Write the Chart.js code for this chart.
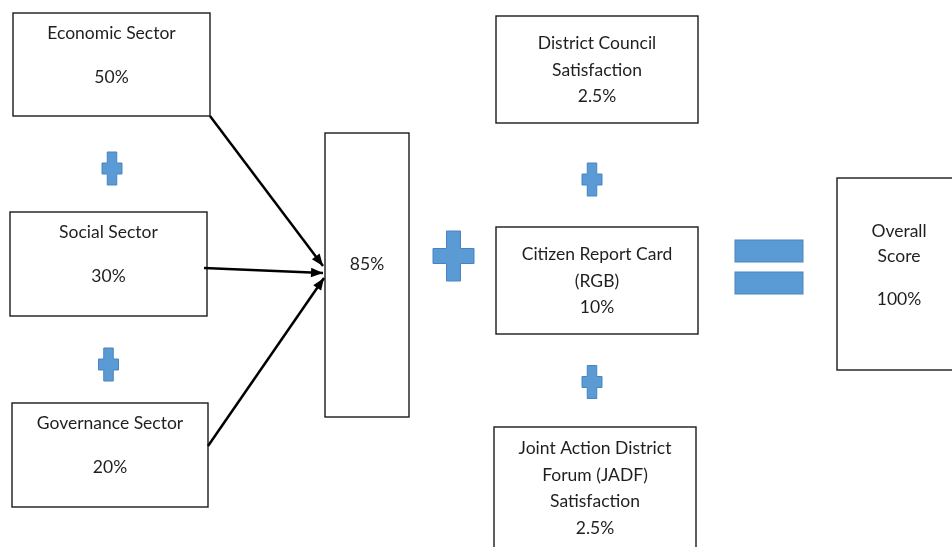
<!DOCTYPE html>
<html><head><meta charset="utf-8">
<script src="https://cdn.jsdelivr.net/npm/chart.js@4.4.0/dist/chart.umd.min.js"></script>
<style>html,body{margin:0;padding:0;background:#fff;overflow:hidden}#wrap{width:952px;height:547px}</style>
</head><body><div id="wrap"><canvas id="c" width="952" height="547"></canvas></div>
<script>
// ---- data ----
const sectorNames = ['Economic Sector', 'Social Sector', 'Governance Sector'];
const sectorWeights = [50, 30, 20];
const subtotalWeight = 85;
const extraNames = [['District Council', 'Satisfaction'], ['Citizen Report Card', '(RGB)'], ['Joint Action District', 'Forum (JADF)', 'Satisfaction']];
const extraWeights = [2.5, 10, 2.5];
const totalName = ['Overall', 'Score'];
const totalWeight = 100;

// ---- layout (axis units) ----
const layout = {
  sectorBoxes: [[13, 13, 210, 116], [10, 212, 207, 316], [12, 403, 208, 507]],
  sectorLabelDy: 20, sectorValueDy: 64,
  subtotalBox: [325, 133, 409, 417], subtotalTextY: 264,
  extraBoxes: [[496, 16, 698, 123], [496, 227, 698, 334], [494, 427, 696, 549]],
  lineGap: 26.5,
  totalBox: [837, 178, 962, 370], totalLinesY: [231, 256], totalValueY: 299,
  arrows: [[[210, 116], [323, 266]], [[204, 268], [323, 273]], [[208, 446], [324, 278]]],
  smallPlus: [[112, 168.5], [108.5, 364.5], [592, 179.5], [592, 382]],
  smallPlusSize: [20, 33, 9.5, 11],
  bigPlus: [453.5, 256], bigPlusSize: [41, 50, 14, 15],
  equalBars: [[735, 240, 803, 262], [735, 272, 803, 294]]
};
const fmt = v => v + '%';
const FONT = '17.5px Lato, "Open Sans", sans-serif';
const TEXT = '#1f1f1f';
const BLUE = '#5B9BD5', BLUE_EDGE = '#4A84BC';

const diagram = {
  id: 'diagram',
  beforeDatasetsDraw(chart) {
    const ctx = chart.ctx, X = chart.scales.x, Y = chart.scales.y;
    const px = v => X.getPixelForValue(v), py = v => Y.getPixelForValue(v);
    ctx.save();
    const box = b => {
      const x0 = px(b[0]), y0 = py(b[1]), x1 = px(b[2]), y1 = py(b[3]);
      ctx.fillStyle = '#fff'; ctx.fillRect(x0, y0, x1 - x0, y1 - y0);
      ctx.strokeStyle = '#1a1a1a'; ctx.lineWidth = 1.4;
      ctx.strokeRect(x0, y0, x1 - x0, y1 - y0);
    };
    const text = (s, cx, cy) => {
      ctx.font = FONT; ctx.fillStyle = TEXT; ctx.textAlign = 'center'; ctx.textBaseline = 'alphabetic';
      ctx.fillText(s, px(cx), py(cy) + 6);
    };
    const cxOf = b => (b[0] + b[2]) / 2;
    layout.sectorBoxes.forEach((b, i) => {
      box(b);
      text(sectorNames[i], cxOf(b), b[1] + layout.sectorLabelDy);
      text(fmt(sectorWeights[i]), cxOf(b), b[1] + layout.sectorValueDy);
    });
    box(layout.subtotalBox);
    text(fmt(subtotalWeight), cxOf(layout.subtotalBox), layout.subtotalTextY);
    layout.extraBoxes.forEach((b, i) => {
      box(b);
      const lines = extraNames[i].concat([fmt(extraWeights[i])]);
      const mid = (b[1] + b[3]) / 2;
      lines.forEach((s, k) => text(s, cxOf(b), mid + (k - (lines.length - 1) / 2) * layout.lineGap));
    });
    const tb = layout.totalBox;
    box(tb);
    const tcx = 899;
    totalName.forEach((s, k) => text(s, tcx, layout.totalLinesY[k]));
    text(fmt(totalWeight), tcx, layout.totalValueY);

    // plus signs and equals
    const plus = (c, sz) => {
      const [w, h, av, ah] = sz;
      const cx = c[0], cy = c[1];
      const pts = [
        [cx - av / 2, cy - h / 2], [cx + av / 2, cy - h / 2], [cx + av / 2, cy - ah / 2], [cx + w / 2, cy - ah / 2],
        [cx + w / 2, cy + ah / 2], [cx + av / 2, cy + ah / 2], [cx + av / 2, cy + h / 2], [cx - av / 2, cy + h / 2],
        [cx - av / 2, cy + ah / 2], [cx - w / 2, cy + ah / 2], [cx - w / 2, cy - ah / 2], [cx - av / 2, cy - ah / 2]
      ];
      ctx.beginPath();
      pts.forEach((p, k) => k ? ctx.lineTo(px(p[0]), py(p[1])) : ctx.moveTo(px(p[0]), py(p[1])));
      ctx.closePath();
      ctx.fillStyle = BLUE; ctx.fill();
      ctx.strokeStyle = BLUE_EDGE; ctx.lineWidth = 1; ctx.stroke();
    };
    layout.smallPlus.forEach(c => plus(c, layout.smallPlusSize));
    plus(layout.bigPlus, layout.bigPlusSize);
    layout.equalBars.forEach(b => {
      const x0 = px(b[0]), y0 = py(b[1]), x1 = px(b[2]), y1 = py(b[3]);
      ctx.fillStyle = BLUE; ctx.fillRect(x0, y0, x1 - x0, y1 - y0);
      ctx.strokeStyle = BLUE_EDGE; ctx.lineWidth = 1; ctx.strokeRect(x0, y0, x1 - x0, y1 - y0);
    });
    ctx.restore();
  },
  afterDatasetsDraw(chart) {
    const ctx = chart.ctx, X = chart.scales.x, Y = chart.scales.y;
    ctx.save();
    layout.arrows.forEach(a => {
      const x0 = X.getPixelForValue(a[0][0]), y0 = Y.getPixelForValue(a[0][1]);
      const x1 = X.getPixelForValue(a[1][0]), y1 = Y.getPixelForValue(a[1][1]);
      const ang = Math.atan2(y1 - y0, x1 - x0), L = 12, W = 4.8;
      ctx.beginPath();
      ctx.moveTo(x1, y1);
      ctx.lineTo(x1 - L * Math.cos(ang) + W * Math.sin(ang), y1 - L * Math.sin(ang) - W * Math.cos(ang));
      ctx.lineTo(x1 - L * Math.cos(ang) - W * Math.sin(ang), y1 - L * Math.sin(ang) + W * Math.cos(ang));
      ctx.closePath();
      ctx.fillStyle = '#000'; ctx.fill();
    });
    ctx.restore();
  }
};

new Chart(document.getElementById('c'), {
  type: 'scatter',
  data: {
    datasets: layout.arrows.map((a, i) => ({
      label: 'arrow' + i,
      data: a.map(p => ({ x: p[0], y: p[1] })),
      showLine: true, borderColor: '#000', borderWidth: 2.5, pointRadius: 0, fill: false
    }))
  },
  options: {
    responsive: false, animation: false, events: [],
    layout: { padding: 0 },
    plugins: { legend: { display: false }, tooltip: { enabled: false } },
    scales: {
      x: { type: 'linear', min: 0, max: 952, display: false },
      y: { type: 'linear', min: 0, max: 547, reverse: true, display: false }
    }
  },
  plugins: [diagram]
});
</script>
</body></html>
